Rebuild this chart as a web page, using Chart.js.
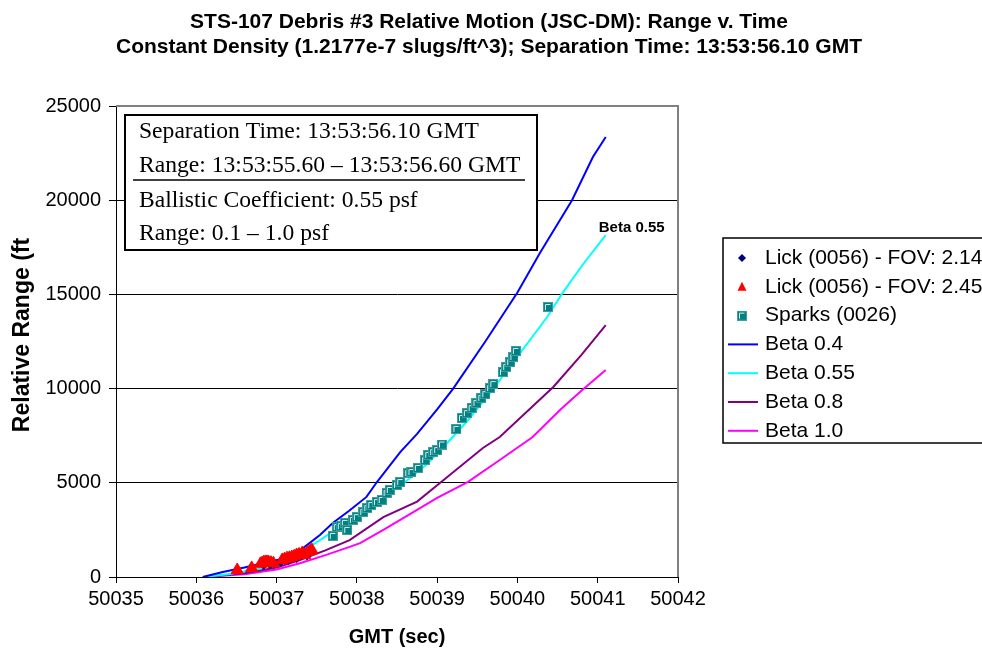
<!DOCTYPE html>
<html>
<head>
<meta charset="utf-8">
<title>STS-107 Debris #3 Relative Motion</title>
<script src="https://cdn.jsdelivr.net/npm/chart.js@4.4.1/dist/chart.umd.min.js"></script>
<style>
  html, body { margin: 0; padding: 0; background: #fff; }
  #chart { display: block; }
</style>
</head>
<body>
<canvas id="chart" width="982" height="655"></canvas>
<script>
// Axis ticks
const xTicks = [50035, 50036, 50037, 50038, 50039, 50040, 50041, 50042];
const yTicks = [0, 5000, 10000, 15000, 20000, 25000];

// Lick (0056) - FOV 2.14
const lick214T = [50036.84, 50036.92, 50037.05, 50037.15, 50037.25, 50037.38];
const lick214R = [620, 650, 780, 880, 980, 1120];

// Lick (0056) - FOV 2.45
const lick245T = [50036.51, 50036.69, 50036.80, 50036.82, 50036.84, 50036.86, 50036.88, 50036.90, 50036.93, 50036.96,
                  50037.07, 50037.10, 50037.13, 50037.16, 50037.19, 50037.22, 50037.25, 50037.28, 50037.32, 50037.35,
                  50037.39, 50037.42, 50037.44];
const lick245R = [370, 480, 700, 740, 780, 800, 800, 790, 760, 730,
                  900, 950, 1000, 1020, 1060, 1100, 1170, 1200, 1270, 1170,
                  1330, 1380, 1430];

// Sparks (0026)
const sparksT = [50037.70, 50037.75, 50037.80, 50037.85, 50037.88, 50037.95, 50038.00, 50038.08, 50038.13, 50038.18,
                 50038.25, 50038.31, 50038.37, 50038.41, 50038.50, 50038.54, 50038.64, 50038.68, 50038.76, 50038.85,
                 50038.89, 50038.95, 50039.00, 50039.06, 50039.24, 50039.31, 50039.37, 50039.43, 50039.49, 50039.55,
                 50039.60, 50039.66, 50039.70, 50039.82, 50039.86, 50039.91, 50039.95, 50039.98, 50040.38];
const sparksR = [2180, 2650, 2700, 2870, 2500, 3030, 3180, 3450, 3660, 3820,
                 3980, 4090, 4460, 4620, 4880, 5040, 5520, 5570, 5790, 6210,
                 6480, 6630, 6740, 7030, 7860, 8440, 8700, 8970, 9240, 9500,
                 9710, 10030, 10240, 10880, 11150, 11410, 11680, 12000, 14330];

// Simulated trajectories, one per ballistic coefficient
const beta04T = [50036.08, 50036.33, 50036.6, 50036.9, 50037.17, 50037.35, 50037.54, 50037.70, 50037.9, 50038.12,
                 50038.25, 50038.54, 50038.75, 50039.0, 50039.2, 50039.6, 50040.0, 50040.28, 50040.68, 50040.94, 50041.1];
const beta04R = [0, 270, 500, 800, 1060, 1600, 2230, 2870, 3500, 4250,
                 5040, 6630, 7600, 8900, 10000, 12500, 15100, 17200, 20000, 22290, 23355];

const beta055T = [50036.1, 50036.4, 50036.8, 50037.1, 50037.3, 50037.54, 50037.8, 50038.1, 50038.35, 50038.6,
                  50038.85, 50039.07, 50039.4, 50039.7, 50040.0, 50040.25, 50040.37, 50040.55, 50040.81, 50041.1];
const beta055R = [0, 150, 450, 850, 1300, 1960, 2700, 3650, 4300, 5040,
                  5900, 6850, 8400, 10000, 11700, 13110, 13800, 15000, 16560, 18150];

const beta08T = [50036.1, 50036.6, 50037.0, 50037.29, 50037.6, 50037.91, 50038.33, 50038.75, 50039.05, 50039.57,
                 50039.78, 50040.45, 50040.8, 50041.1];
const beta08R = [0, 200, 500, 900, 1400, 1960, 3180, 4000, 5040, 6850,
                 7430, 10100, 11800, 13375];

const beta10T = [50036.1, 50036.6, 50037.0, 50037.29, 50037.6, 50037.91, 50038.04, 50038.33, 50038.75, 50039.0,
                 50039.38, 50039.78, 50040.19, 50040.53, 50040.8, 50041.1];
const beta10R = [0, 150, 400, 730, 1150, 1600, 1800, 2500, 3560, 4200,
                 5040, 6210, 7430, 8860, 9900, 10990];

const SANS = "'Liberation Sans', Arial, sans-serif";
const SERIF = "'Liberation Serif', 'Times New Roman', serif";

const zip = (ts, rs) => ts.map((t, i) => ({ x: t, y: rs[i] }));

// little shaded square like the spreadsheet marker
function sparksMarker() {
    const c = document.createElement('canvas');
    c.width = 10; c.height = 10;
    const g = c.getContext('2d');
    g.fillStyle = '#3f9f9f';
    g.fillRect(0, 0, 10, 10);
    g.fillStyle = '#008080';
    g.fillRect(1, 1, 8, 8);
    g.strokeStyle = '#d8f0f0';
    g.lineWidth = 1;
    g.beginPath();
    g.moveTo(2.5, 8); g.lineTo(2.5, 2.5); g.lineTo(7.5, 2.5);
    g.stroke();
    return c;
}
const sparksImg = sparksMarker();

const lineSet = (label, ts, rs, color) => ({
    label, data: zip(ts, rs), showLine: true, borderColor: color, backgroundColor: color,
    borderWidth: 2, pointRadius: 0, tension: 0
});

const datasets = [
    { label: 'Lick (0056) - FOV: 2.45', data: zip(lick245T, lick245R), pointStyle: 'triangle',
      pointRadius: 7, backgroundColor: '#ff0000', borderColor: '#ff0000', borderWidth: 1 },
    { label: 'Lick (0056) - FOV: 2.14', data: zip(lick214T, lick214R), pointStyle: 'rectRot',
      pointRadius: 4, backgroundColor: '#000080', borderColor: '#000080', borderWidth: 1 },
    { label: 'Sparks (0026)', data: zip(sparksT, sparksR), pointStyle: sparksImg, pointRadius: 5 },
    lineSet('Beta 0.4', beta04T, beta04R, '#0000ff'),
    lineSet('Beta 0.55', beta055T, beta055R, '#00ffff'),
    lineSet('Beta 0.8', beta08T, beta08R, '#800080'),
    lineSet('Beta 1.0', beta10T, beta10R, '#ff00ff')
];

const legendItems = [
    { text: 'Lick (0056) - FOV: 2.14', kind: 'diamond', color: '#000080' },
    { text: 'Lick (0056) - FOV: 2.45', kind: 'triangle', color: '#ff0000' },
    { text: 'Sparks (0026)', kind: 'square' },
    { text: 'Beta 0.4', kind: 'line', color: '#0000ff' },
    { text: 'Beta 0.55', kind: 'line', color: '#00ffff' },
    { text: 'Beta 0.8', kind: 'line', color: '#800080' },
    { text: 'Beta 1.0', kind: 'line', color: '#ff00ff' }
];

const infoLines = [
    'Separation Time: 13:53:56.10 GMT',
    'Range: 13:53:55.60 \u2013 13:53:56.60 GMT',
    'Ballistic Coefficient: 0.55 psf',
    'Range: 0.1 \u2013 1.0 psf'
];

// plot frame, title, info box, legend and the end label
const decor = {
    id: 'decor',
    beforeDatasetsDraw(chart) {
        const { ctx, chartArea: a } = chart;
        ctx.save();
        ctx.strokeStyle = '#808080';
        ctx.lineWidth = 2;
        ctx.beginPath();
        ctx.moveTo(a.left, a.top);
        ctx.lineTo(a.right, a.top);
        ctx.lineTo(a.right, a.bottom);
        ctx.stroke();
        ctx.restore();
    },
    afterDraw(chart) {
        const { ctx, scales: { x, y } } = chart;
        ctx.save();

        // title
        ctx.fillStyle = '#000';
        ctx.textAlign = 'center';
        ctx.textBaseline = 'alphabetic';
        ctx.font = 'bold 21px ' + SANS;
        ctx.fillText('STS-107 Debris #3 Relative Motion (JSC-DM): Range v. Time', 489, 28);
        ctx.fillText('Constant Density (1.2177e-7 slugs/ft^3); Separation Time: 13:53:56.10 GMT', 489, 53);

        // y axis title
        ctx.save();
        ctx.translate(23, 335);
        ctx.rotate(-Math.PI / 2);
        ctx.textBaseline = 'middle';
        ctx.font = 'bold 23px ' + SANS;
        ctx.fillText('Relative Range (ft', 0, 0);
        ctx.restore();

        // info box
        ctx.fillStyle = '#fff';
        ctx.fillRect(125, 115, 412, 135);
        ctx.strokeStyle = '#000';
        ctx.lineWidth = 2;
        ctx.strokeRect(125, 115, 412, 135);
        ctx.lineWidth = 1.5;
        ctx.beginPath();
        ctx.moveTo(133, 180);
        ctx.lineTo(525, 180);
        ctx.stroke();
        ctx.fillStyle = '#000';
        ctx.textAlign = 'left';
        ctx.font = '23.6px ' + SERIF;
        const base = [138, 172, 207, 240];
        infoLines.forEach((s, i) => ctx.fillText(s, 139, base[i]));

        // label at the end of Beta 0.55
        const lx = x.getPixelForValue(beta055T[beta055T.length - 1]);
        const ly = y.getPixelForValue(beta055R[beta055R.length - 1]);
        ctx.font = 'bold 15px ' + SANS;
        ctx.textBaseline = 'middle';
        ctx.fillText('Beta 0.55', lx - 7, ly - 7);

        // legend
        ctx.fillStyle = '#fff';
        ctx.fillRect(723, 238, 300, 205);
        ctx.strokeStyle = '#000';
        ctx.lineWidth = 1.5;
        ctx.strokeRect(723, 238, 300, 205);
        ctx.font = '21px ' + SANS;
        legendItems.forEach((it, i) => {
            const cy = 258 + i * 28.8;
            const cx = 742;
            if (it.kind === 'line') {
                ctx.strokeStyle = it.color;
                ctx.lineWidth = 2;
                ctx.beginPath();
                ctx.moveTo(728, cy);
                ctx.lineTo(758, cy);
                ctx.stroke();
            } else if (it.kind === 'diamond') {
                ctx.fillStyle = it.color;
                ctx.beginPath();
                ctx.moveTo(cx, cy - 4); ctx.lineTo(cx + 4, cy); ctx.lineTo(cx, cy + 4); ctx.lineTo(cx - 4, cy);
                ctx.closePath();
                ctx.fill();
            } else if (it.kind === 'triangle') {
                ctx.fillStyle = it.color;
                ctx.beginPath();
                ctx.moveTo(cx, cy - 5); ctx.lineTo(cx + 4.5, cy + 4); ctx.lineTo(cx - 4.5, cy + 4);
                ctx.closePath();
                ctx.fill();
            } else {
                ctx.drawImage(sparksImg, cx - 5, cy - 5);
            }
            ctx.fillStyle = '#000';
            ctx.textBaseline = 'middle';
            ctx.fillText(it.text, 765, cy);
        });
        ctx.restore();
    }
};

new Chart(document.getElementById('chart'), {
    type: 'scatter',
    data: { datasets },
    options: {
        responsive: false,
        animation: false,
        events: [],
        layout: { padding: { top: 106, right: 304, left: 0, bottom: 0 } },
        plugins: { legend: { display: false }, tooltip: { enabled: false }, title: { display: false } },
        scales: {
            x: {
                type: 'linear', min: 50035, max: 50042,
                afterBuildTicks: s => { s.ticks = xTicks.map(v => ({ value: v })); },
                afterFit: s => { s.height = 78; },
                ticks: { color: '#000', font: { family: SANS, size: 20 }, padding: 4, callback: v => String(v), maxRotation: 0 },
                grid: { drawOnChartArea: false, drawTicks: true, tickLength: 6, color: '#000' },
                border: { color: '#000', width: 1 },
                title: { display: true, text: 'GMT (sec)', color: '#000', font: { family: SANS, size: 20, weight: 'bold' },
                         padding: { top: 0, bottom: 6 } }
            },
            y: {
                type: 'linear', min: 0, max: 25000,
                afterBuildTicks: s => { s.ticks = yTicks.map(v => ({ value: v })); },
                afterFit: s => { s.width = 116; },
                ticks: { color: '#000', font: { family: SANS, size: 20 }, padding: 8, callback: v => String(v) },
                grid: { drawOnChartArea: true, drawTicks: true, tickLength: 7, color: '#000', lineWidth: 1 },
                border: { color: '#000', width: 1 },
                title: { display: false }
            }
        }
    },
    plugins: [decor]
});
</script>
</body>
</html>
